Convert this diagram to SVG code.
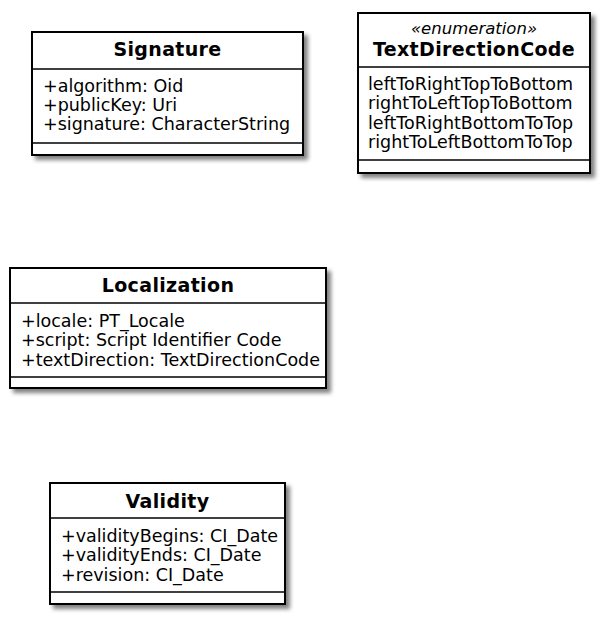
<svg xmlns="http://www.w3.org/2000/svg" width="606" height="620" viewBox="0 0 606 620">
<defs>
<filter id="shadow" x="-10%" y="-10%" width="130%" height="130%">
<feGaussianBlur in="SourceAlpha" stdDeviation="2"/>
<feOffset dx="4" dy="4" result="b"/>
<feComponentTransfer><feFuncA type="linear" slope="0.5"/></feComponentTransfer>
<feMerge><feMergeNode/><feMergeNode in="SourceGraphic"/></feMerge>
</filter>
</defs>
<style>
.box{fill:#ffffff;stroke:#000000;stroke-width:2;filter:url(#shadow)}
.sep{stroke:#000000;stroke-width:1.6}
.title{font-family:"DejaVu Sans",sans-serif;font-weight:bold;font-size:19px;letter-spacing:0.35px;fill:#000;text-anchor:middle}
.stereo{font-family:"DejaVu Sans",sans-serif;font-style:italic;font-size:16.5px;fill:#000;text-anchor:middle}
.attr{font-family:"DejaVu Sans",sans-serif;font-size:17.5px;fill:#000}
</style>
<rect width="606" height="620" fill="#ffffff"/>
<g id="Signature">
<rect class="box" x="32" y="32" width="271" height="123"/>
<line class="sep" x1="32" y1="69" x2="303" y2="69"/>
<line class="sep" x1="32" y1="143" x2="303" y2="143"/>
<text class="title" x="167.5" y="56">Signature</text>
<text class="attr" x="43" y="92">+algorithm: Oid</text>
<text class="attr" x="43" y="111">+publicKey: Uri</text>
<text class="attr" x="43" y="130">+signature: CharacterString</text>
</g>
<g id="TextDirectionCode">
<rect class="box" x="358" y="13" width="232" height="160"/>
<line class="sep" x1="358" y1="67" x2="590" y2="67"/>
<line class="sep" x1="358" y1="160" x2="590" y2="160"/>
<text class="stereo" x="474" y="34">«enumeration»</text>
<text class="title" x="474" y="56">TextDirectionCode</text>
<text class="attr" x="368" y="90">leftToRightTopToBottom</text>
<text class="attr" x="368" y="109">rightToLeftTopToBottom</text>
<text class="attr" x="368" y="129">leftToRightBottomToTop</text>
<text class="attr" x="368" y="148">rightToLeftBottomToTop</text>
</g>
<g id="Localization">
<rect class="box" x="10" y="268" width="316" height="120"/>
<line class="sep" x1="10" y1="303" x2="326" y2="303"/>
<line class="sep" x1="10" y1="377" x2="326" y2="377"/>
<text class="title" x="168" y="292">Localization</text>
<text class="attr" x="21" y="327">+locale: PT_Locale</text>
<text class="attr" x="21" y="346">+script: Script Identifier Code</text>
<text class="attr" x="21" y="366">+textDirection: TextDirectionCode</text>
</g>
<g id="Validity">
<rect class="box" x="50" y="483" width="235" height="121"/>
<line class="sep" x1="50" y1="518" x2="285" y2="518"/>
<line class="sep" x1="50" y1="592" x2="285" y2="592"/>
<text class="title" x="167.5" y="508">Validity</text>
<text class="attr" x="61" y="542">+validityBegins: CI_Date</text>
<text class="attr" x="61" y="561">+validityEnds: CI_Date</text>
<text class="attr" x="61" y="581">+revision: CI_Date</text>
</g>
<g id="connectors"/>
</svg>
